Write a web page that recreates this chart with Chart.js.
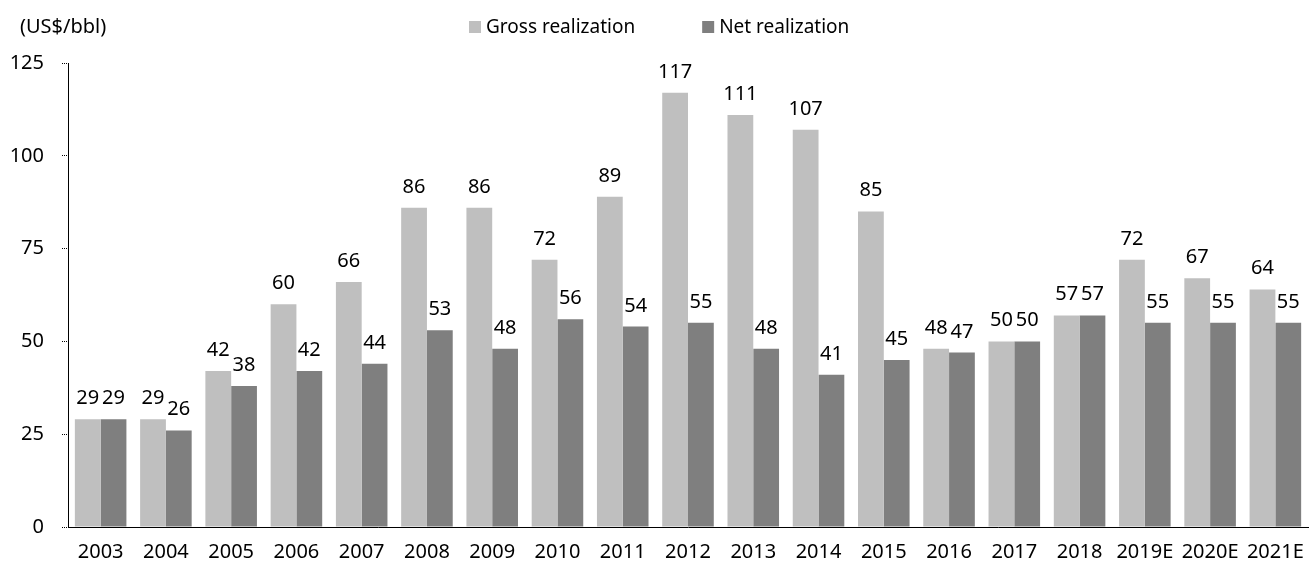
<!DOCTYPE html>
<html>
<head>
<meta charset="utf-8">
<script src="https://cdn.jsdelivr.net/npm/chart.js@4"></script>
<style>
  html, body { margin: 0; padding: 0; background: #fff; }
  #wrap { width: 1309px; height: 562px; position: relative; }
</style>
</head>
<body>
<div id="wrap"><canvas id="chart" width="1309" height="562"></canvas></div>
<script>
// data
const years = ['2003', '2004', '2005', '2006', '2007', '2008', '2009', '2010', '2011', '2012',
  '2013', '2014', '2015', '2016', '2017', '2018', '2019E', '2020E', '2021E'];
const grossRealization = [29, 29, 42, 60, 66, 86, 86, 72, 89, 117, 111, 107, 85, 48, 50, 57, 72, 67, 64];
const netRealization = [29, 26, 38, 42, 44, 53, 48, 56, 54, 55, 48, 41, 45, 47, 50, 57, 55, 55, 55];
const yTicks = [0, 25, 50, 75, 100, 125];

const FONT = '"Noto Sans", "DejaVu Sans", sans-serif';

// value labels above each bar
const barLabels = {
  id: 'barLabels',
  afterDatasetsDraw(chart) {
    const ctx = chart.ctx;
    ctx.save();
    ctx.font = '20px ' + FONT;
    ctx.fillStyle = '#000';
    ctx.textAlign = 'center';
    ctx.textBaseline = 'alphabetic';
    chart.data.datasets.forEach((ds, i) => {
      chart.getDatasetMeta(i).data.forEach((bar, j) => {
        ctx.fillText(Math.round(ds.data[j]), bar.x, bar.y - 15);
      });
    });
    ctx.restore();
  }
};

// unit caption + legend along the top
const topTexts = {
  id: 'topTexts',
  afterDraw(chart) {
    const ctx = chart.ctx;
    ctx.save();
    ctx.fillStyle = '#000';
    ctx.textBaseline = 'middle';
    ctx.textAlign = 'left';
    ctx.font = '20px ' + FONT;
    ctx.fillText('(US$/bbl)', 20, 27);

    ctx.font = '19px ' + FONT;
    let x = 469;
    chart.data.datasets.forEach(ds => {
      ctx.fillStyle = ds.backgroundColor;
      ctx.fillRect(x, 21, 12, 12);
      ctx.fillStyle = '#000';
      ctx.fillText(ds.label, x + 17, 28);
      x += 17 + ctx.measureText(ds.label).width + 67;
    });
    ctx.restore();
  }
};

new Chart(document.getElementById('chart'), {
  type: 'bar',
  data: {
    labels: years,
    datasets: [
      { label: 'Gross realization', data: grossRealization, backgroundColor: '#bfbfbf' },
      { label: 'Net realization', data: netRealization, backgroundColor: '#7f7f7f' }
    ]
  },
  options: {
    responsive: false,
    animation: false,
    categoryPercentage: 0.79,
    barPercentage: 1.0,
    layout: { padding: { left: 0, right: 1, top: 63, bottom: 0 } },
    plugins: {
      legend: { display: false },
      tooltip: { enabled: false }
    },
    scales: {
      x: {
        afterFit(axis) {
          axis.height = 35;
          axis.paddingLeft = 0;
          axis.paddingRight = 0;
        },
        grid: { display: false, drawTicks: false },
        border: { display: true, color: '#000', width: 1, dash: [1, 1] },
        ticks: { font: { family: FONT, size: 20 }, color: '#000', padding: 13, maxRotation: 0, autoSkip: false }
      },
      y: {
        min: 0,
        max: 125,
        afterBuildTicks(axis) { axis.ticks = yTicks.map(v => ({ value: v })); },
        afterFit(axis) { axis.width = 68; },
        grid: { drawOnChartArea: false, drawTicks: true, tickLength: 6, color: '#000', tickBorderDash: [1, 1] },
        border: { display: true, color: '#000', width: 1, dash: [1, 1] },
        ticks: { font: { family: FONT, size: 20 }, color: '#000', padding: 18 }
      }
    }
  },
  plugins: [barLabels, topTexts]
});
</script>
</body>
</html>
